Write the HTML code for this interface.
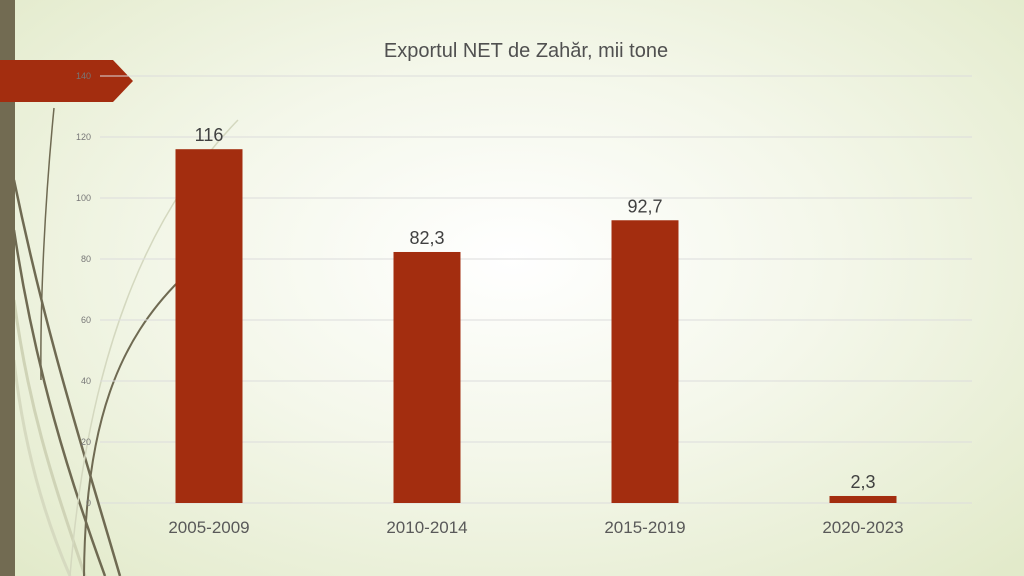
<!DOCTYPE html>
<html><head><meta charset="utf-8"><style>
html,body{margin:0;padding:0}
body{width:1024px;height:576px;overflow:hidden;position:relative;font-family:"Liberation Sans",sans-serif;
background:radial-gradient(ellipse 70% 75% at 50% 45%,#ffffff 0%,#f4f7ea 45%,#e2eaca 100%);}
</style></head><body>
<svg width="1024" height="576" style="position:absolute;left:0;top:0">
<g>
<path d="M14,180 C45,330 80,440 120,576" stroke="#6f6a52" stroke-width="2.5" fill="none"/>
<path d="M14,230 C35,370 70,480 105,576" stroke="#6f6a52" stroke-width="2.5" fill="none"/>
<path d="M14,300 C30,420 60,500 85,576" stroke="#cfd3b6" stroke-width="3" fill="none"/>
<path d="M14,360 C25,460 50,530 70,576" stroke="#d6dac0" stroke-width="3" fill="none"/>
<path d="M180,280 C120,340 85,420 84,576" stroke="#6f6a52" stroke-width="2" fill="none"/>
<path d="M238,120 C160,200 90,330 70,576" stroke="#d4d8bf" stroke-width="1.5" fill="none"/>
<path d="M54,108 C45,200 40,300 41,380" stroke="#6f6a52" stroke-width="1.5" fill="none"/>
<rect x="0" y="0" width="15" height="576" fill="#726b52"/>
</g>
<path d="M0,60 L113,60 L133,81 L113,102 L0,102 Z" fill="#a32d0f"/>
<g id="grid"></g>
<g id="bars"></g>
<text x="526" y="57" text-anchor="middle" font-size="20" fill="#505050">Exportul NET de Zahăr, mii tone</text>
</svg>
<script>
const categories=["2005-2009","2010-2014","2015-2019","2020-2023"];
const values=[116,82.3,92.7,2.3];
const labels=["116","82,3","92,7","2,3"];
const ticks=[0,20,40,60,80,100,120,140];
const NS="http://www.w3.org/2000/svg";
const x0=100,x1=972,yBase=503,yTop=76,vMax=140;
const y=v=>yBase-(v/vMax)*(yBase-yTop);
const bw=(x1-x0)/categories.length;
const grid=document.getElementById('grid'),bars=document.getElementById('bars');
function mk(tag,attrs,parent){const e=document.createElementNS(NS,tag);for(const k in attrs)e.setAttribute(k,attrs[k]);parent.appendChild(e);return e;}
ticks.forEach(t=>{
  const l=mk('line',{x1:x0,x2:x1,y1:y(t),y2:y(t),stroke:'#dcdcdc','stroke-width':1},grid);
  
  
  const tx=mk('text',{x:91,y:y(t)+3,'text-anchor':'end','font-size':9,fill:'#777'},grid);
  tx.textContent=t;
  
  
});
categories.forEach((c,i)=>{
  const cx=x0+bw*(i+0.5),w=67;
  const r=mk('rect',{x:cx-w/2,y:y(values[i]),width:w,height:yBase-y(values[i]),fill:'#a32d0f'},bars);
  
  
  const lb=mk('text',{x:cx,y:y(values[i])-8,'text-anchor':'middle','font-size':18,fill:'#404040'},bars);
  lb.textContent=labels[i];
  
  
  const xl=mk('text',{x:cx,y:533,'text-anchor':'middle','font-size':17,fill:'#595959'},bars);
  xl.textContent=c;
  
  
});
</script>
</body></html>
